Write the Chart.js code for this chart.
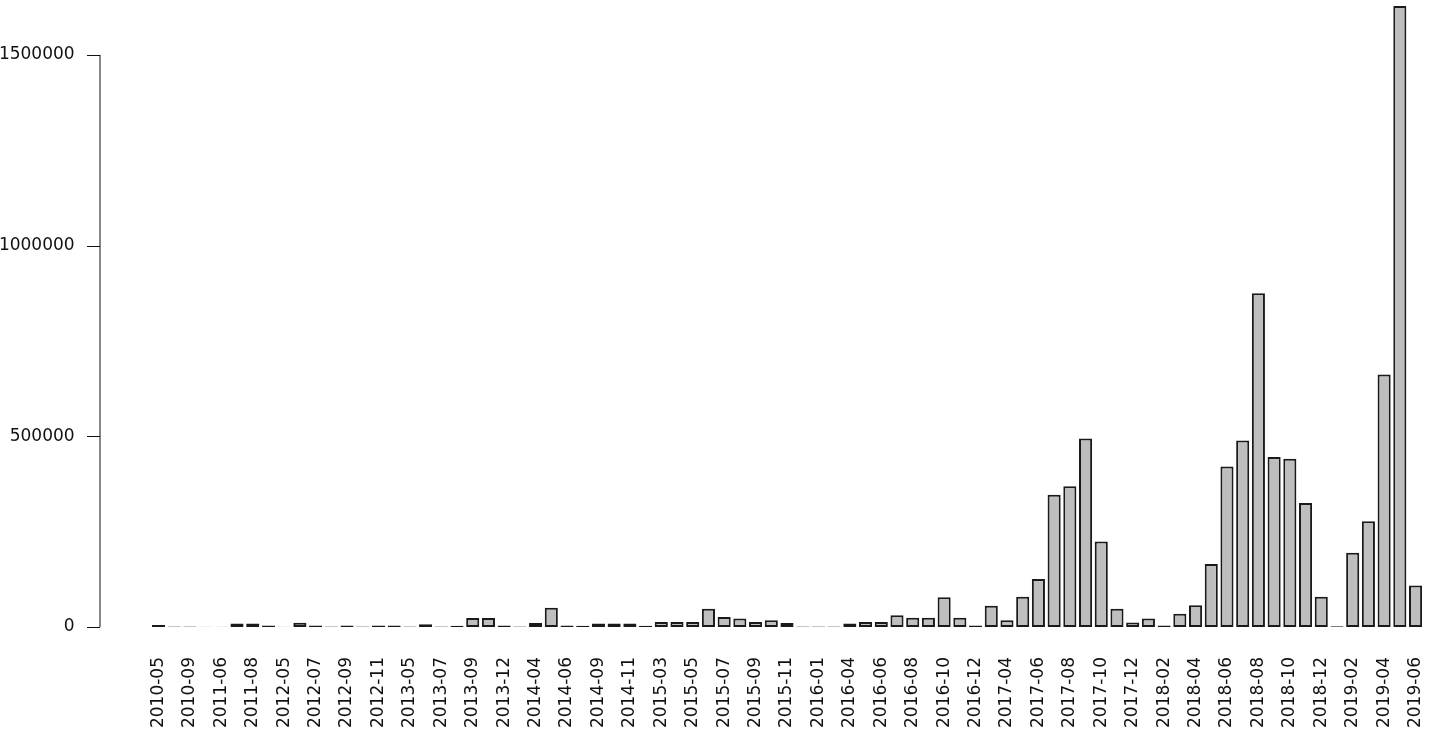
<!DOCTYPE html>
<html>
<head>
<meta charset="utf-8">
<script src="https://cdn.jsdelivr.net/npm/chart.js@4"></script>
<style>
  html, body { margin: 0; padding: 0; background: #fff; }
  #wrap { width: 1441px; height: 751px; position: relative; }
</style>
</head>
<body>
<div id="wrap"><canvas id="monthChart"></canvas></div>
<script>
// months present in the data (only every other one gets a label, like R's barplot)
const months = [
  "2010-05", "2010-07", "2010-09", "2011-03", "2011-06", "2011-07", "2011-08", "2011-10",
  "2012-05", "2012-06", "2012-07", "2012-08", "2012-09", "2012-10", "2012-11", "2013-02",
  "2013-05", "2013-06", "2013-07", "2013-08", "2013-09", "2013-10", "2013-12", "2014-02",
  "2014-04", "2014-05", "2014-06", "2014-07", "2014-09", "2014-10", "2014-11", "2015-01",
  "2015-03", "2015-04", "2015-05", "2015-06", "2015-07", "2015-08", "2015-09", "2015-10",
  "2015-11", "2015-12", "2016-01", "2016-03", "2016-04", "2016-05", "2016-06", "2016-07",
  "2016-08", "2016-09", "2016-10", "2016-11", "2016-12", "2017-02", "2017-04", "2017-05",
  "2017-06", "2017-07", "2017-08", "2017-09", "2017-10", "2017-11", "2017-12", "2018-01",
  "2018-02", "2018-03", "2018-04", "2018-05", "2018-06", "2018-07", "2018-08", "2018-09",
  "2018-10", "2018-11", "2018-12", "2019-01", "2019-02", "2019-03", "2019-04", "2019-05",
  "2019-06"
];

// counts per month
const counts = [
  5000, 1000, 1000, 500, 500, 9000, 9000, 4000,
  500, 11000, 4000, 1500, 4000, 1000, 4000, 4000,
  1000, 7000, 1000, 3000, 23500, 23500, 4000, 1000,
  10500, 50500, 4000, 3000, 9500, 9500, 9500, 3500,
  13000, 13000, 13000, 48000, 26000, 22000, 13000, 18000,
  10500, 1000, 1000, 1000, 9000, 13000, 13000, 30500,
  24500, 24500, 78000, 24500, 4000, 56000, 17500, 79000,
  126000, 347000, 369000, 494000, 224500, 48000, 12000, 22000,
  4000, 35000, 57000, 165000, 421000, 489000, 875000, 445500,
  441000, 325000, 79000, 2000, 195000, 277000, 662000, 1628000,
  108500
];

// y axis ticks (R draws the axis line only across these)
const yTicks = [0, 500000, 1000000, 1500000];

const FONT = { family: "'DejaVu Sans', sans-serif", size: 17 };

// R style axis: a line from the first to the last tick, ticks pointing left
const rAxis = {
  id: "rAxis",
  afterDraw(chart) {
    const ctx = chart.ctx;
    const ys = chart.scales.y;
    const x0 = chart.chartArea.left - 50.6;
    ctx.save();
    ctx.strokeStyle = "#111";
    ctx.lineWidth = 1;
    ctx.beginPath();
    ctx.moveTo(x0, ys.getPixelForValue(yTicks[0]));
    ctx.lineTo(x0, ys.getPixelForValue(yTicks[yTicks.length - 1]));
    yTicks.forEach(v => {
      const p = Math.round(ys.getPixelForValue(v)) + 0.5;
      ctx.moveTo(x0, p);
      ctx.lineTo(x0 - 13, p);
    });
    ctx.stroke();
    ctx.restore();
  }
};

document.addEventListener("DOMContentLoaded", () => {
  const ctx = document.getElementById("monthChart").getContext("2d");

  new Chart(ctx, {
    type: "bar",
    data: {
      labels: months,
      datasets: [{
        data: counts,
        backgroundColor: "#bebebe",
        borderColor: "#1a1a1a",
        borderWidth: 2,
        borderSkipped: false,
        categoryPercentage: 1.0,
        barPercentage: 0.833
      }]
    },
    options: {
      responsive: true,
      maintainAspectRatio: false,
      animation: false,
      layout: { padding: { left: 0, right: 17.6, top: 0, bottom: 0 } },
      plugins: {
        legend: { display: false },
        tooltip: { enabled: false }
      },
      scales: {
        x: {
          grid: { display: false, drawTicks: false, tickLength: 0 },
          border: { display: false },
          ticks: {
            autoSkip: false,
            maxRotation: 90,
            minRotation: 90,
            padding: 30,
            color: "#111",
            font: FONT,
            callback: function (v, i) {
              return i % 2 === 0 ? this.getLabelForValue(v) : "";
            }
          },
          afterFit: s => {
            s.height = 124;
            s.paddingLeft = 0;
            s.paddingRight = 0;
          }
        },
        y: {
          min: 0,
          max: 1644000,
          grid: { display: false, drawTicks: false, tickLength: 0 },
          border: { display: false },
          ticks: {
            padding: 76,
            color: "#111",
            font: FONT,
            callback: v => String(v)
          },
          afterBuildTicks: s => { s.ticks = yTicks.map(v => ({ value: v })); },
          afterFit: s => {
            s.width = 150.6;
            s.paddingTop = 0;
            s.paddingBottom = 0;
          }
        }
      }
    },
    plugins: [rAxis]
  });
});
</script>
</body>
</html>
